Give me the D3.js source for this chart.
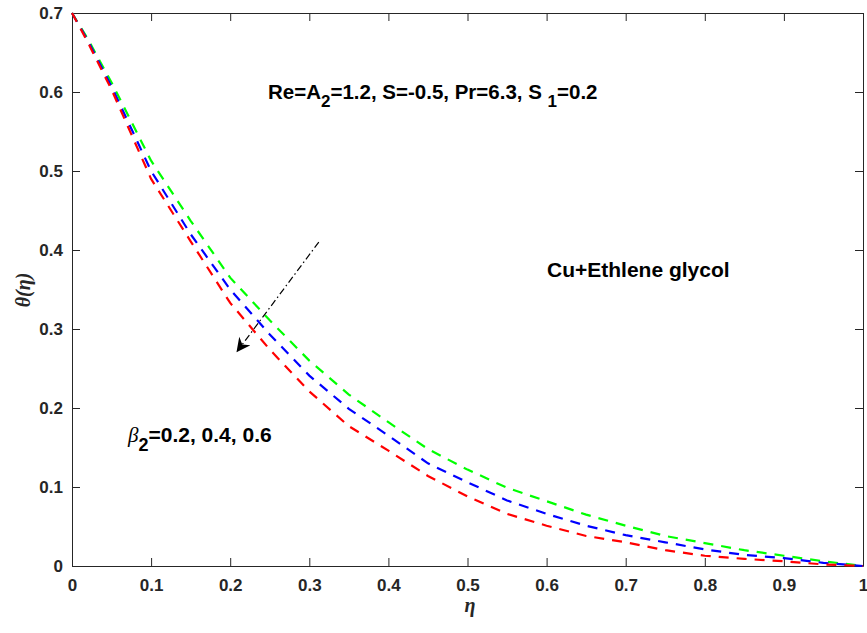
<!DOCTYPE html>
<meta charset="utf-8">
<style>
  body { margin: 0; background: #fff; }
  svg text { font-family: "Liberation Sans", Arial, sans-serif; }
  .tick text { font-size: 17px; font-weight: bold; fill: #262626; }
  .domain, .tick line { stroke: #262626; }
</style>
<div id="chart"></div>
<script src="https://d3js.org/d3.v7.min.js"></script>
<script>
// data
const eta = [0, 0.02, 0.05, 0.1, 0.15, 0.2, 0.25, 0.3, 0.35, 0.4, 0.45, 0.5, 0.55, 0.6, 0.65, 0.7, 0.75, 0.8, 0.85, 0.9, 0.95, 1];
const thetaB06 = [0.7, 0.667, 0.612, 0.513, 0.437, 0.365, 0.311, 0.26, 0.217, 0.182, 0.148, 0.122, 0.099, 0.082, 0.065, 0.051, 0.038, 0.029, 0.020, 0.013, 0.006, 0];
const thetaB04 = [0.7, 0.665, 0.607, 0.50, 0.42, 0.35, 0.293, 0.241, 0.199, 0.165, 0.130, 0.106, 0.083, 0.066, 0.051, 0.039, 0.030, 0.021, 0.014, 0.010, 0.004, 0];
const thetaB02 = [0.7, 0.663, 0.603, 0.49, 0.411, 0.333, 0.274, 0.221, 0.177, 0.146, 0.114, 0.088, 0.066, 0.051, 0.038, 0.030, 0.020, 0.013, 0.009, 0.006, 0.002, 0];
const xTicks = [0, 0.1, 0.2, 0.3, 0.4, 0.5, 0.6, 0.7, 0.8, 0.9, 1];
const yTicks = [0, 0.1, 0.2, 0.3, 0.4, 0.5, 0.6, 0.7];

const W = 867, H = 633;
const margin = {top: 13, right: 4, bottom: 67, left: 72};
const width = 863 - margin.left, height = 566 - margin.top;

const svg = d3.select("#chart").append("svg")
  .attr("width", W).attr("height", H);
const g = svg.append("g")
  .attr("transform", `translate(${margin.left},${margin.top})`);

const x = d3.scaleLinear().domain([0, 1]).range([0, width]);
const y = d3.scaleLinear().domain([0, 0.7]).range([height, 0]);

// axes (ticks pointing inwards, full box)
g.append("g").attr("transform", `translate(0,${height})`)
  .call(d3.axisBottom(x).tickValues(xTicks).tickFormat(d3.format("")).tickSizeInner(-8).tickSizeOuter(0).tickPadding(13));
g.append("g")
  .call(d3.axisLeft(y).tickValues(yTicks).tickFormat(d3.format("")).tickSizeInner(-8).tickSizeOuter(0).tickPadding(9));
g.append("g")
  .call(d3.axisTop(x).tickValues(xTicks).tickFormat("").tickSizeInner(-8).tickSizeOuter(0));
g.append("g").attr("transform", `translate(${width},0)`)
  .call(d3.axisRight(y).tickValues(yTicks).tickFormat("").tickSizeInner(-8).tickSizeOuter(0));

// curves
const line = d3.line().x((d, i) => x(eta[i])).y(d => y(d));
const series = [
  {vals: thetaB06, color: "#00ff00"},
  {vals: thetaB04, color: "#0000ff"},
  {vals: thetaB02, color: "#ff0000"}
];
g.selectAll("path.curve").data(series).join("path")
  .attr("class", "curve")
  .attr("d", d => line(d.vals))
  .attr("fill", "none")
  .attr("stroke", d => d.color)
  .attr("stroke-width", 2.2)
  .attr("stroke-dasharray", "10,8");

// arrow
svg.append("defs").append("marker")
  .attr("id", "head").attr("viewBox", "0 0 10 10")
  .attr("refX", 9).attr("refY", 5)
  .attr("markerWidth", 16).attr("markerHeight", 14)
  .attr("markerUnits", "userSpaceOnUse")
  .attr("orient", "auto")
  .append("path").attr("d", "M0,0 L10,5 L0,10 L3,5 Z").attr("fill", "#000");
g.append("line")
  .attr("x1", x(0.312)).attr("y1", y(0.41))
  .attr("x2", x(0.209)).attr("y2", y(0.272))
  .attr("stroke", "#000").attr("stroke-width", 1.2)
  .attr("stroke-dasharray", "7,3,1.5,3")
  .attr("marker-end", "url(#head)");

// annotations
const t1 = svg.append("text").attr("x", 268).attr("y", 99)
  .attr("font-size", 20.5).attr("font-weight", "bold").attr("fill", "#000");
t1.append("tspan").text("Re=A");
t1.append("tspan").attr("dy", 8).attr("font-size", 17).text("2");
t1.append("tspan").attr("dy", -8).text("=1.2, S=-0.5, Pr=6.3, S ");
t1.append("tspan").attr("dy", 8).attr("font-size", 17).text("1");
t1.append("tspan").attr("dy", -8).text("=0.2");

svg.append("text").attr("x", 547).attr("y", 277)
  .attr("font-size", 21).attr("font-weight", "bold").attr("fill", "#000")
  .text("Cu+Ethlene glycol");

const t3 = svg.append("text").attr("x", 128).attr("y", 442)
  .attr("font-size", 21).attr("font-weight", "bold").attr("fill", "#000");
t3.append("tspan").attr("font-family", "Liberation Serif, serif")
  .attr("font-style", "italic").attr("font-weight", "normal").text("β");
t3.append("tspan").attr("dy", 9).attr("font-size", 18).text("2");
t3.append("tspan").attr("dy", -9).text("=0.2, 0.4, 0.6");

// axis labels
svg.append("text").attr("x", 470).attr("y", 612)
  .attr("text-anchor", "middle")
  .style("font-family", "Liberation Serif, serif").style("font-style", "italic")
  .attr("font-size", 20).attr("font-weight", "bold").attr("fill", "#262626").text("η");
svg.append("text")
  .attr("transform", "translate(30,290) rotate(-90)")
  .attr("text-anchor", "middle")
  .style("font-family", "Liberation Serif, serif").style("font-style", "italic")
  .attr("font-size", 20).attr("font-weight", "bold").attr("fill", "#262626").text("θ(η)");
</script>
